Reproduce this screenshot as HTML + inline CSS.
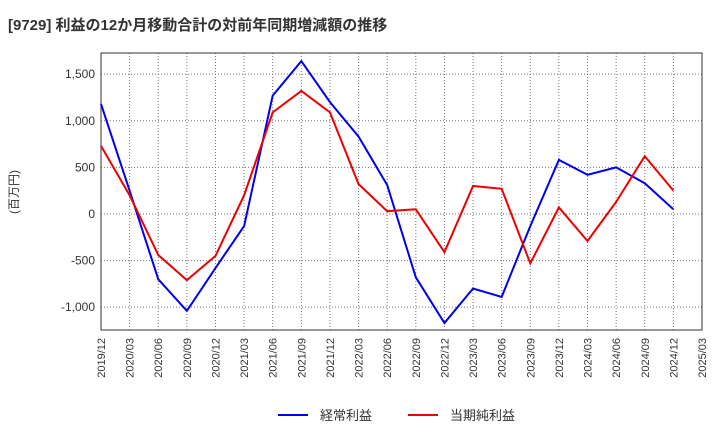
<!DOCTYPE html>
<html><head><meta charset="utf-8"><style>
body{margin:0;background:#fff;}
svg{display:block;font-family:"Liberation Sans","Noto Sans CJK JP",sans-serif;}
</style></head><body>
<svg id="c" width="720" height="440">
<text x="8" y="30" font-size="15" font-weight="bold" fill="#333">[9729]  利益の12か月移動合計の対前年同期増減額の推移</text>
<text transform="translate(18,192) rotate(-90)" font-size="12" fill="#333" text-anchor="middle">(百万円)</text>
<g id="grid"></g><g id="axes"></g><g id="series"></g>
<g>
<line x1="278" y1="415" x2="308" y2="415" stroke="#0000ee" stroke-width="2"/>
<text x="320" y="420" font-size="13" fill="#333">経常利益</text>
<line x1="408" y1="415" x2="438" y2="415" stroke="#ee0000" stroke-width="2"/>
<text x="450" y="420" font-size="13" fill="#333">当期純利益</text>
</g>
</svg>
<script>
const categories=["2019/12","2020/03","2020/06","2020/09","2020/12","2021/03","2021/06","2021/09","2021/12","2022/03","2022/06","2022/09","2022/12","2023/03","2023/06","2023/09","2023/12","2024/03","2024/06","2024/09","2024/12","2025/03"];
const keijoValues=[1180,250,-700,-1040,-580,-130,1270,1640,1200,830,310,-680,-1170,-800,-890,-130,580,420,500,330,50];
const junriValues=[730,200,-440,-710,-450,200,1090,1320,1090,320,30,50,-410,300,270,-530,70,-290,130,620,250];
const yTicks=[1500,1000,500,0,-500,-1000];
const yTickLabels=["1,500","1,000","500","0","-500","-1,000"];
const L=101,R=702,T=53,B=330,yMax=1727,yMin=-1245;
const ns="http://www.w3.org/2000/svg";
const xs=i=>L+(R-L)*i/(categories.length-1);
const ys=v=>T+(yMax-v)/(yMax-yMin)*(B-T);
function mk(tag,attrs,parent){const e=document.createElementNS(ns,tag);for(const k in attrs)e.setAttribute(k,attrs[k]);document.getElementById(parent).appendChild(e);return e;}
categories.forEach((c,i)=>{
 const g=mk("line",{x1:xs(i),x2:xs(i),y1:T,y2:B,stroke:"#777","stroke-dasharray":"1,2","stroke-width":1},"grid");
 
 
 const x=xs(i),y=B+8;
 const t=mk("text",{x:x+4,y:y,"font-size":11,fill:"#333","text-anchor":"end",transform:`rotate(-90 ${x+4} ${y})`},"axes");
 t.textContent=c;
 
 
});
yTicks.forEach((v,i)=>{
 const g=mk("line",{x1:L,x2:R,y1:ys(v),y2:ys(v),stroke:"#777","stroke-dasharray":"1,2","stroke-width":1},"grid");
 
 
 const t=mk("text",{x:L-6,y:ys(v)+4,"font-size":12,fill:"#333","text-anchor":"end"},"axes");
 t.textContent=yTickLabels[i];
 
 
});
const fr=mk("rect",{x:L,y:T,width:R-L,height:B-T,fill:"none",stroke:"#333","stroke-width":1},"axes");


function line(vals,color,name){
 const p=mk("polyline",{points:vals.map((v,i)=>xs(i)+","+ys(v)).join(" "),fill:"none",stroke:color,"stroke-width":2},"series");
 
 
}
line(keijoValues,"#0000ee","keijo-line");
line(junriValues,"#ee0000","junri-line");
</script>
</body></html>
